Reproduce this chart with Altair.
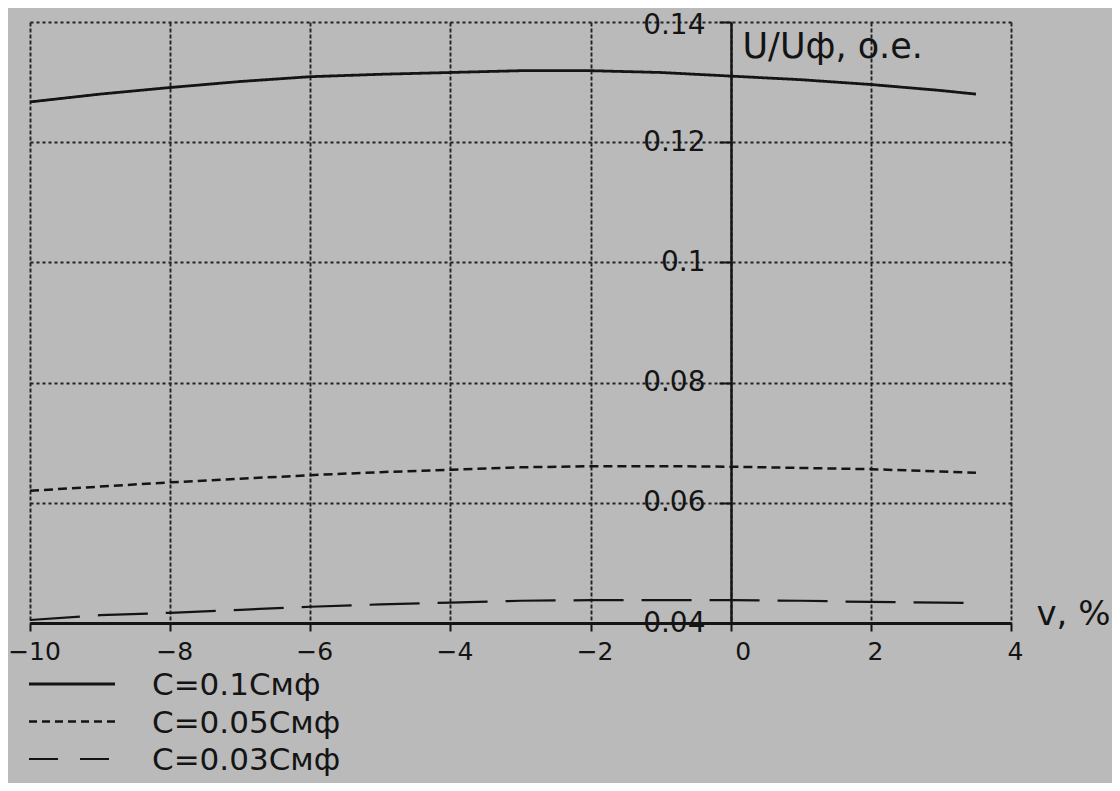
import altair as alt
import pandas as pd

# values (v in %, U/Uф in p.u.)
v = [-10, -9, -8, -7, -6, -5, -4, -3, -2, -1, 0, 1, 2, 3, 3.5]
u_c01 = [0.1267, 0.1280, 0.1291, 0.1301, 0.1309, 0.1313, 0.1316, 0.1319,
         0.1319, 0.1316, 0.1310, 0.1304, 0.1296, 0.1286, 0.1280]
u_c005 = [0.0620, 0.0627, 0.0634, 0.0640, 0.0646, 0.0651, 0.0655, 0.0659,
          0.0661, 0.0661, 0.0660, 0.0658, 0.0656, 0.0652, 0.0650]
u_c003 = [0.0405, 0.0413, 0.0417, 0.0422, 0.0427, 0.0431, 0.0434, 0.0437,
          0.0438, 0.0438, 0.0438, 0.0437, 0.0435, 0.0434, 0.0433]
series = ["C=0.1Смф", "C=0.05Смф", "C=0.03Смф"]
dashes = [[1, 0], [9, 5], [50, 18]]
legend_dashes = [[1, 0], [8, 5], [29, 22]]
line_widths = [2.8, 2.2, 2.4]
x_ticks = [-10, -8, -6, -4, -2, 0, 2, 4]
y_ticks = [0.04, 0.06, 0.08, 0.1, 0.12, 0.14]

rows = []
for name, vals in zip(series, [u_c01, u_c005, u_c003]):
    for xv, yv in zip(v, vals):
        rows.append({"v": xv, "u": yv, "series": name})
df = pd.DataFrame(rows)
leg = pd.DataFrame({"series": series})

FONT = "DejaVu Sans"
INK = "#141414"
W, H = 981, 601

width_scale = alt.Scale(domain=series, range=line_widths)

lines = alt.Chart(df).mark_line(color=INK).encode(
    x=alt.X("v:Q", scale=alt.Scale(domain=[-10, 4], nice=False, zero=False),
            axis=alt.Axis(values=x_ticks, title="v, %", grid=True,
                          gridDash=[4, 2], gridColor="#222222", gridWidth=1.9,
                          domainColor=INK, domainWidth=2.8,
                          tickColor=INK, tickSize=8, tickWidth=2,
                          labelFont=FONT, labelFontSize=25, labelColor=INK,
                          labelPadding=8,
                          labelOffset={"condition": {"test": "datum.value == 0", "value": 12},
                                       "value": 4},
                          labelFlush=False, labelOverlap=False,
                          titleFont=FONT, titleFontSize=34, titleFontWeight="normal",
                          titleColor=INK, titleX=1006, titleY=-9,
                          titleAlign="left", titleBaseline="middle")),
    y=alt.Y("u:Q", scale=alt.Scale(domain=[0.04, 0.14], nice=False, zero=False),
            axis=alt.Axis(values=y_ticks, format="~g", orient="left", offset=-701,
                          title="U/Uф, о.е.", grid=True,
                          gridDash=[3, 3], gridColor="#222222", gridWidth=1.9,
                          domainColor=INK, domainWidth=2.4,
                          tickColor=INK, tickSize=12, tickWidth=2,
                          labelFont=FONT, labelFontSize=28, labelColor=INK,
                          labelPadding=14,
                          labelOffset={"condition": {"test": "datum.value > 0.139", "value": 3},
                                       "value": 0},
                          labelFlush=False, labelOverlap=False,
                          titleFont=FONT, titleFontSize=35, titleFontWeight="normal",
                          titleColor=INK, titleAngle=0, titleX=11, titleY=35,
                          titleAlign="left", titleBaseline="alphabetic")),
    strokeDash=alt.StrokeDash("series:N", scale=alt.Scale(domain=series, range=dashes),
                              legend=None),
    strokeWidth=alt.StrokeWidth("series:N", scale=width_scale, legend=None),
    detail="series:N",
)

leg_y = alt.Y("series:N", scale=alt.Scale(type="point", domain=series,
                                           range=[662, 737], padding=0), axis=None)

leg_lines = alt.Chart(leg).mark_rule(color=INK).encode(
    x=alt.value(-1), x2=alt.value(85), y=leg_y,
    strokeDash=alt.StrokeDash("series:N",
                              scale=alt.Scale(domain=series, range=legend_dashes),
                              legend=None),
    strokeWidth=alt.StrokeWidth("series:N", scale=width_scale, legend=None),
)
leg_text = alt.Chart(leg).mark_text(align="left", baseline="middle", dy=2,
                                    font=FONT, fontSize=31, color=INK).encode(
    x=alt.value(122), y=leg_y, text="series:N",
)

chart = alt.layer(lines, leg_lines, leg_text).resolve_scale(
    y="independent", strokeDash="independent"
).properties(
    width=W, height=H, autosize="none",
    padding={"left": 22, "top": 14, "right": 1104 - 22 - W, "bottom": 775 - 14 - H},
    background="#bababa",
).configure_view(stroke=None)

chart.save("out.html", embed_options={"renderer": "svg", "actions": False})
